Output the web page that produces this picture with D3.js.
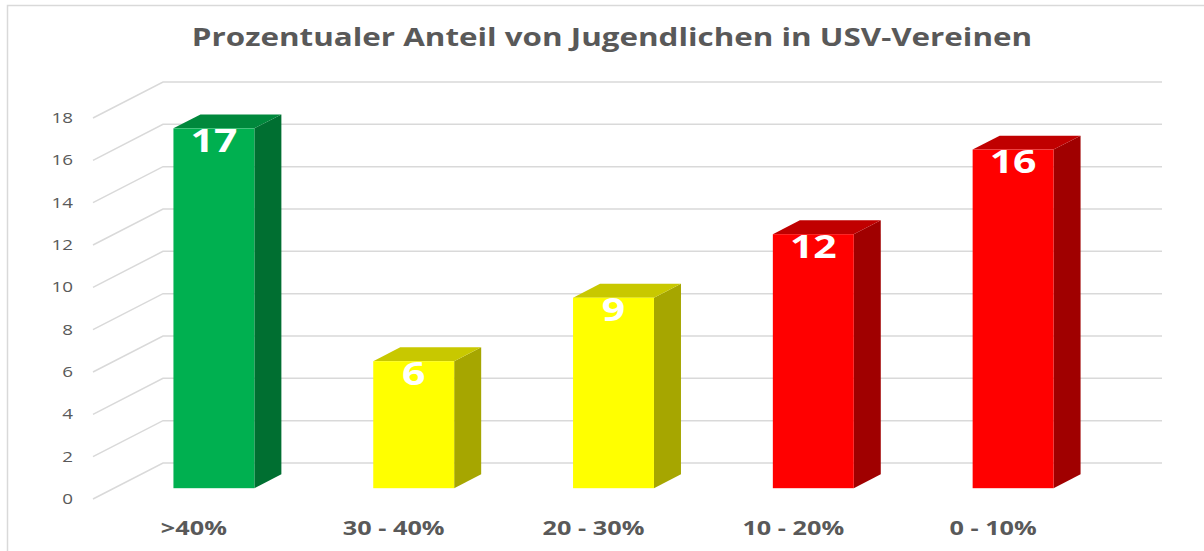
<!DOCTYPE html>
<html>
<head>
<meta charset="utf-8">
<script src="https://cdn.jsdelivr.net/npm/d3@7"></script>
<style>
  html, body { margin: 0; padding: 0; background: #fff; }
  svg { display: block; }
</style>
</head>
<body>
<svg id="chart" width="1204" height="551"></svg>
<script>
// ---- data ----
const title = "Prozentualer Anteil von Jugendlichen in USV-Vereinen";
const categories = [">40%", "30 - 40%", "20 - 30%", "10 - 20%", "0 - 10%"];
const values = [17, 6, 9, 12, 16];
const yTicks = [0, 2, 4, 6, 8, 10, 12, 14, 16, 18];

// ---- styles ----
const palette = {
  ">40%":     { front: "#00b050", top: "#00883c", side: "#006f31" },
  "30 - 40%": { front: "#ffff00", top: "#c8c800", side: "#a6a600" },
  "20 - 30%": { front: "#ffff00", top: "#c8c800", side: "#a6a600" },
  "10 - 20%": { front: "#ff0000", top: "#c00000", side: "#a00000" },
  "0 - 10%":  { front: "#ff0000", top: "#c00000", side: "#a00000" }
};
const FONT = "'Open Sans', sans-serif";
const SX = 1.3; // horizontal stretch of text, as in the reference

const svg = d3.select("#chart");

// frame
svg.append("path")
  .attr("d", "M7.5,551 V5.5 H1204")
  .attr("fill", "none").attr("stroke", "#d9d9d9").attr("stroke-width", 1.5);

// 3D geometry
const depthX = 70, depthY = -36;
const x = d3.scaleBand().domain(categories).range([93, 1092]).paddingInner(0).paddingOuter(0);
const y = d3.scaleLinear().domain([0, 18]).range([499, 118]);
const zFront = 0.3, zDepth = 0.386, barFrac = 0.405;

function sText(g, txt, px, py, anchor, sx) {
  return g.append("text")
    .attr("transform", `translate(${px},${py}) scale(${sx || SX},1)`)
    .attr("text-anchor", anchor)
    .text(txt);
}

// gridlines
const grid = svg.append("g");
yTicks.forEach(t => {
  const x0 = x.range()[0], y0 = y(t);
  grid.append("path")
    .attr("d", `M${x0},${y0} L${x0 + depthX},${y0 + depthY} L${x.range()[1] + depthX},${y0 + depthY}`)
    .attr("fill", "none").attr("stroke", "#d9d9d9").attr("stroke-width", 1.5);
});

// y tick labels
const yl = svg.append("g").attr("font-family", FONT).attr("font-size", 14.5).attr("fill", "#595959");
yTicks.forEach(t => {
  sText(yl, String(t), 73, y(t) + 5, "end");
});

// bars
const bars = svg.append("g");
categories.forEach((c, i) => {
  const v = values[i];
  const bw = x.bandwidth() * barFrac;
  const cx = x(c) + x.bandwidth() / 2;
  const ox = zFront * depthX, oy = zFront * depthY;
  const dx = zDepth * depthX, dy = zDepth * depthY;
  const l = cx - bw / 2 + ox, r = cx + bw / 2 + ox;
  const b = y(0) + oy, t = y(v) + oy;
  const col = palette[c];
  // side
  bars.append("path")
    .attr("d", `M${r},${b} L${r + dx},${b + dy} L${r + dx},${t + dy} L${r},${t} Z`)
    .attr("fill", col.side);
  // top
  bars.append("path")
    .attr("d", `M${l},${t} L${l + dx},${t + dy} L${r + dx},${t + dy} L${r},${t} Z`)
    .attr("fill", col.top);
  // front
  bars.append("rect")
    .attr("x", l).attr("y", t).attr("width", r - l).attr("height", b - t)
    .attr("fill", col.front);
  // value label
  const lab = sText(bars, String(v), (l + r) / 2, t + 23.5, "middle");
  lab.attr("font-family", FONT).attr("font-weight", 700).attr("font-size", 31.5).attr("fill", "#ffffff");
});

// x labels
const xl = svg.append("g").attr("font-family", FONT).attr("font-weight", 700).attr("font-size", 19).attr("fill", "#595959");
categories.forEach(c => {
  sText(xl, c, x(c) + x.bandwidth() / 2 + 1, 535, "middle", 1.33);
});

// title
const tg = svg.append("g").attr("font-family", FONT).attr("font-weight", 700).attr("font-size", 24.5).attr("fill", "#595959");
sText(tg, title, 612, 46, "middle", 1.28);
</script>
</body>
</html>
